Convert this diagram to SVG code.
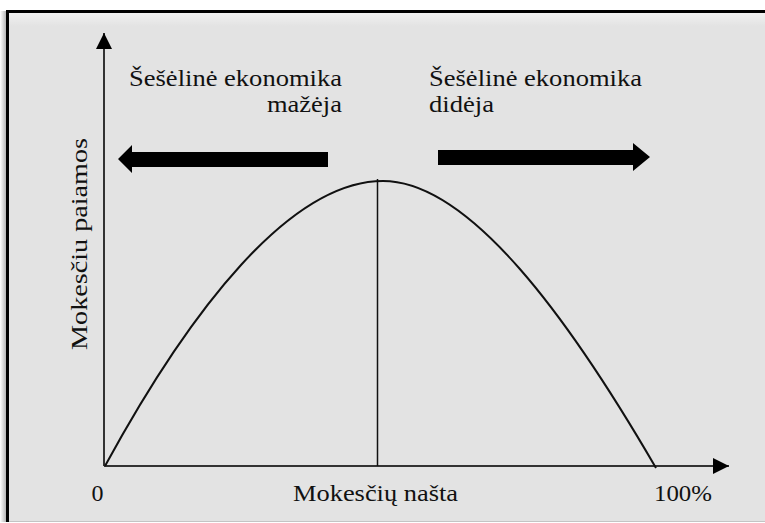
<svg xmlns="http://www.w3.org/2000/svg" width="765" height="523" viewBox="0 0 765 523">
  <defs>
    <linearGradient id="topFade" x1="0" y1="0" x2="0" y2="1">
      <stop offset="0" stop-color="#f2f2f2"/>
      <stop offset="1" stop-color="#e3e3e3"/>
    </linearGradient>
    <linearGradient id="sideShadow" x1="0" y1="0" x2="1" y2="0">
      <stop offset="0" stop-color="#ffffff"/>
      <stop offset="1" stop-color="#a8a8a8"/>
    </linearGradient>
    <marker id="axisHead" viewBox="0 0 16 16" refX="16" refY="8" markerWidth="16" markerHeight="16" markerUnits="userSpaceOnUse" orient="auto">
      <path d="M0,0 L16,8 L0,16 Z" fill="#000"/>
    </marker>
    <style>
      .lbl { font-family: "Liberation Serif", "Times New Roman", serif; font-size: 24px; fill: #111; }
      .axis { stroke: #333; stroke-width: 2; fill: none; }
      .curve { stroke: #111; stroke-width: 2; fill: none; }
      .big-arrow { fill: #000; }
    </style>
  </defs>

  <!-- panel background -->
  <rect x="0" y="0" width="765" height="523" fill="#ffffff"/>
  <rect x="0" y="11" width="7" height="511" fill="url(#sideShadow)"/>
  <rect x="7" y="11" width="758" height="510" fill="#e3e3e3"/>
  <rect x="7" y="12" width="758" height="14" fill="url(#topFade)"/>
  <line x1="7" y1="521.5" x2="765" y2="521.5" stroke="#c4c4c4" stroke-width="1"/>
  <path d="M7.5,522 V11.5 H765" fill="none" stroke="#000" stroke-width="3"/>

  <!-- axes and curve -->
  <g id="connectors">
    <line class="axis" x1="104" y1="466" x2="104" y2="33" marker-end="url(#axisHead)"/>
    <line class="axis" x1="104" y1="466" x2="729" y2="466" marker-end="url(#axisHead)"/>
    <path id="laffer-curve" class="curve" d="M105,466 C190,310 290,181 383,181 C470,181 570,320 656,468"/>
    <line x1="377.5" y1="179" x2="377.5" y2="466" stroke="#111" stroke-width="1.5"/>
  </g>

  <!-- direction arrows -->
  <g id="arrow-left">
    <path class="big-arrow" d="M328,152 H132 V145 L118,159 L132,173 V167 H328 Z"/>
  </g>
  <g id="arrow-right">
    <path class="big-arrow" d="M438,150 H633 V143 L650,157 L633,171 V165 H438 Z"/>
  </g>

  <!-- labels (glyphs widened slightly to the printed widths) -->
  <g id="label-left">
    <text class="lbl" x="129" y="86" textLength="213" lengthAdjust="spacingAndGlyphs">Šešėlinė ekonomika</text>
    <text class="lbl" x="267" y="112" textLength="75" lengthAdjust="spacingAndGlyphs">mažėja</text>
  </g>
  <g id="label-right">
    <text class="lbl" x="429" y="86" textLength="213" lengthAdjust="spacingAndGlyphs">Šešėlinė ekonomika</text>
    <text class="lbl" x="429" y="112" textLength="65" lengthAdjust="spacingAndGlyphs">didėja</text>
  </g>
  <g id="label-y">
    <text class="lbl" transform="translate(87,350) rotate(-90)" textLength="212" lengthAdjust="spacingAndGlyphs">Mokesčiu paiamos</text>
  </g>
  <g id="label-x">
    <text class="lbl" x="97.5" y="501" text-anchor="middle">0</text>
    <text class="lbl" x="293" y="501" textLength="165" lengthAdjust="spacingAndGlyphs">Mokesčių našta</text>
    <text class="lbl" x="654" y="501" textLength="58" lengthAdjust="spacingAndGlyphs">100%</text>
  </g>
</svg>
